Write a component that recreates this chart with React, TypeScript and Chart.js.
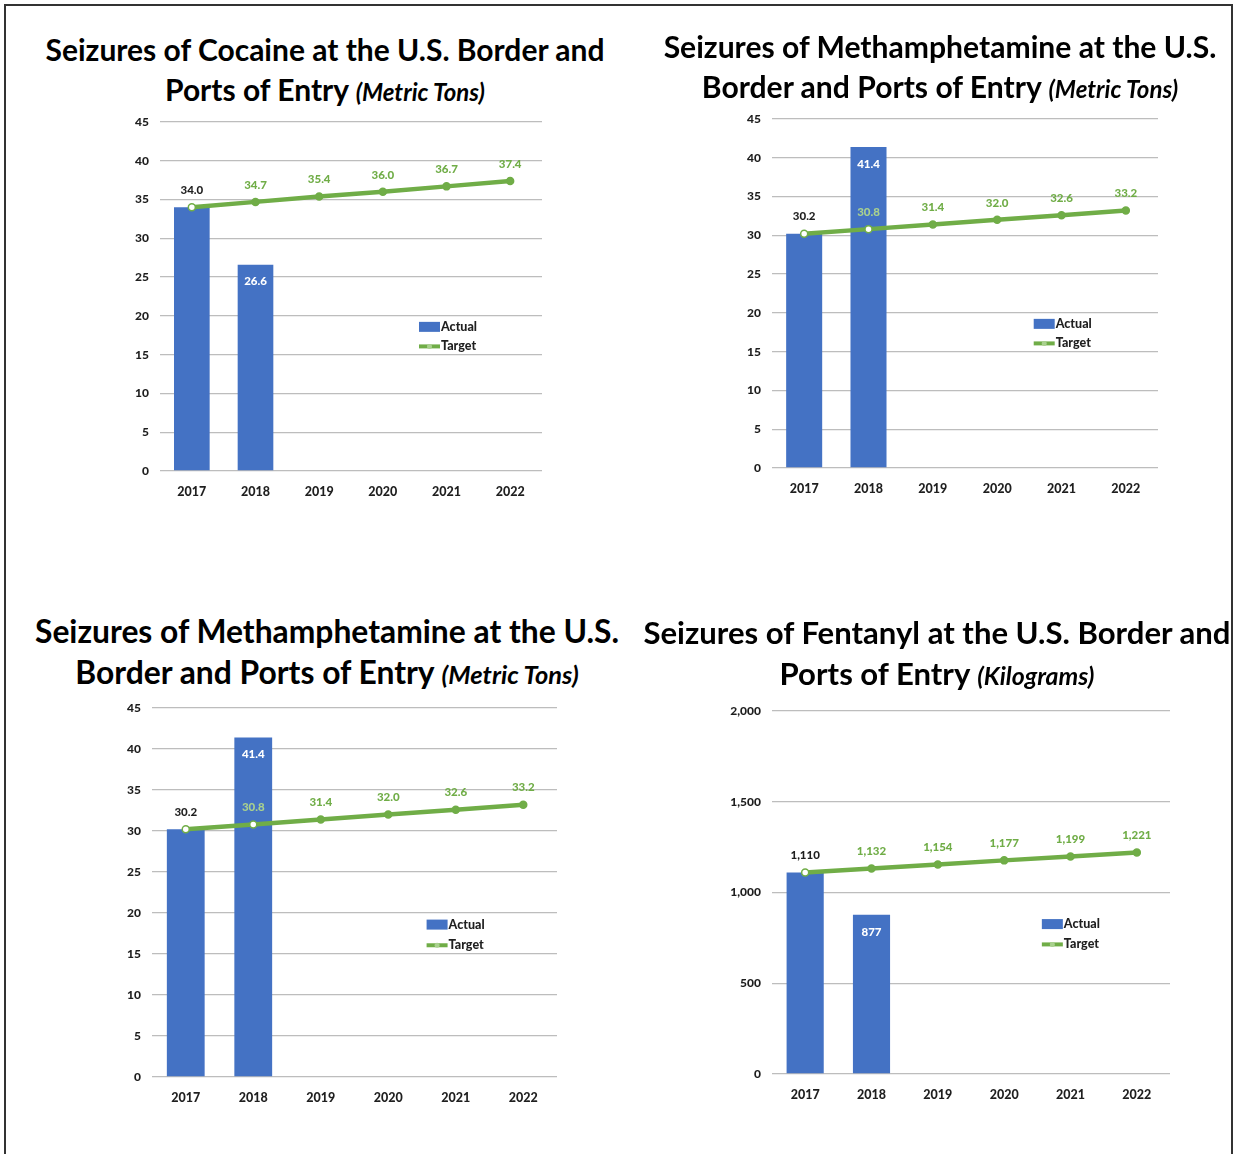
import React, { useEffect, useRef } from "react";
import { Chart, registerables } from "chart.js";

Chart.register(...registerables);

// ---------- DATA ----------
const years = ["2017", "2018", "2019", "2020", "2021", "2022"];

const cocaineActual = [34.0, 26.6, null, null, null, null];
const cocaineTarget = [34.0, 34.7, 35.4, 36.0, 36.7, 37.4];

const methActual = [30.2, 41.4, null, null, null, null];
const methTarget = [30.2, 30.8, 31.4, 32.0, 32.6, 33.2];

const fentanylActual = [1110, 877, null, null, null, null];
const fentanylTarget = [1110, 1132, 1154, 1177, 1199, 1221];

const tonsAxisMax = 45;
const tonsAxisStep = 5;
const kgAxisMax = 2000;
const kgAxisStep = 500;

// ---------- STYLE ----------
const BLUE = "#4472C4";
const GREEN = "#70AD47";
const LIGHT_GREEN = "#A9D18E";
const GRID = "#bdbdbd";
const TEXT = "#1f1f1f";
const FONT = "Lato, 'Open Sans', sans-serif";

type PanelProps = {
  actual: (number | null)[];
  target: number[];
  max: number;
  step: number;
  decimals: number;
  plot: { L: number; T: number; R: number; B: number };
  titleLine1: string;
  titleLine2: string;
  unit: string;
  titleCx: number;
  titleY1: number;
  titleSize: number;
  titleLH: number;
};

const Y_W = 60;
const X_H = 35;
const PAD_T = 20;
const PAD_R = 15;

function fmt(v: number, decimals: number) {
  if (decimals > 0) return v.toFixed(decimals);
  return Math.round(v).toLocaleString("en-US");
}

function Panel(p: PanelProps) {
  const ref = useRef<HTMLCanvasElement | null>(null);
  const cw = p.plot.R - p.plot.L + Y_W + PAD_R;
  const ch = p.plot.B - p.plot.T + PAD_T + X_H;

  useEffect(() => {
    if (!ref.current) return;
    const labelPlugin = {
      id: "labelsAndLegend",
      afterDatasetsDraw(chart: any) {
        const ctx = chart.ctx as CanvasRenderingContext2D;
        const barMeta = chart.getDatasetMeta(0);
        const lineMeta = chart.getDatasetMeta(1);
        ctx.save();
        ctx.font = `900 11.5px ${FONT}`;
        ctx.textAlign = "center";
        ctx.textBaseline = "middle";
        for (let i = 0; i < years.length; i++) {
          const a = p.actual[i];
          const t = p.target[i];
          if (a != null) {
            const el = barMeta.data[i];
            if (a === t) {
              ctx.fillStyle = TEXT;
              ctx.fillText(fmt(a, p.decimals), el.x, el.y - 17);
            } else {
              ctx.fillStyle = "#ffffff";
              ctx.fillText(fmt(a, p.decimals), el.x, el.y + 17);
            }
          }
          if (t != null && t !== a) {
            const pt = lineMeta.data[i];
            ctx.fillStyle = a != null && a > t ? LIGHT_GREEN : GREEN;
            ctx.fillText(fmt(t, p.decimals), pt.x, pt.y - 17);
          }
        }
        // legend inside plot
        const ca = chart.chartArea;
        const w = ca.right - ca.left;
        const h = ca.bottom - ca.top;
        const x0 = ca.left + 0.678 * w;
        const y1 = ca.top + 0.587 * h;
        const y2 = ca.top + 0.643 * h;
        ctx.fillStyle = BLUE;
        ctx.fillRect(x0, y1 - 5, 21, 10);
        ctx.strokeStyle = GREEN;
        ctx.lineWidth = 4;
        ctx.beginPath();
        ctx.moveTo(x0, y2);
        ctx.lineTo(x0 + 21, y2);
        ctx.stroke();
        ctx.fillStyle = LIGHT_GREEN;
        ctx.beginPath();
        ctx.arc(x0 + 10.5, y2, 2.5, 0, Math.PI * 2);
        ctx.fill();
        ctx.fillStyle = TEXT;
        ctx.textAlign = "left";
        ctx.font = `900 12.5px ${FONT}`;
        ctx.fillText("Actual", x0 + 22, y1);
        ctx.fillText("Target", x0 + 22, y2);
        ctx.restore();
      },
    };

    const chart = new Chart(ref.current, {
      type: "bar",
      data: {
        labels: years,
        datasets: [
          {
            type: "bar",
            label: "Actual",
            data: p.actual as any,
            backgroundColor: BLUE,
            barPercentage: 0.56,
            categoryPercentage: 1.0,
            order: 1,
          },
          {
            type: "line",
            label: "Target",
            data: p.target,
            borderColor: GREEN,
            borderWidth: 4.5,
            pointRadius: 3.5,
            pointBorderWidth: 1.5,
            pointBorderColor: GREEN,
            pointBackgroundColor: (c: any) => {
              const a = p.actual[c.dataIndex];
              return a != null && a >= p.target[c.dataIndex] ? "#ffffff" : GREEN;
            },
            tension: 0,
            order: 0,
          } as any,
        ],
      },
      options: {
        responsive: false,
        maintainAspectRatio: false,
        animation: false,
        layout: { padding: { left: 0, top: PAD_T, right: PAD_R, bottom: 0 } },
        plugins: {
          legend: { display: false },
          title: { display: false },
          tooltip: { enabled: false },
        },
        scales: {
          x: {
            offset: true,
            grid: { display: false, drawTicks: false },
            border: { display: false },
            ticks: {
              padding: 13,
              color: TEXT,
              font: { family: FONT, size: 12.5, weight: "900" as any },
            },
            afterFit: (s: any) => {
              s.height = X_H;
            },
          },
          y: {
            min: 0,
            max: p.max,
            grid: { color: GRID, lineWidth: 1.3, drawTicks: false },
            border: { display: false },
            ticks: {
              stepSize: p.step,
              padding: 11,
              color: TEXT,
              font: { family: FONT, size: 12, weight: "900" as any },
              callback: (v: any) => Number(v).toLocaleString("en-US"),
            },
            afterFit: (s: any) => {
              s.width = Y_W;
            },
          },
        },
      },
      plugins: [labelPlugin],
    });
    return () => chart.destroy();
  }, []);

  return (
    <>
      <div
        style={{
          position: "absolute",
          left: p.titleCx - 400,
          top: p.titleY1 - p.titleLH / 2,
          width: 800,
          textAlign: "center",
          fontFamily: FONT,
          fontWeight: 700,
          fontSize: p.titleSize,
          lineHeight: `${p.titleLH}px`,
          color: "#000",
          whiteSpace: "nowrap",
        }}
      >
        {p.titleLine1}
        <br />
        {p.titleLine2}{" "}
        <span style={{ fontStyle: "italic", fontSize: p.titleSize * 0.8 }}>{p.unit}</span>
      </div>
      <canvas
        ref={ref}
        width={cw}
        height={ch}
        style={{
          position: "absolute",
          left: p.plot.L - Y_W,
          top: p.plot.T - PAD_T,
          width: cw,
          height: ch,
        }}
      />
    </>
  );
}

export default function App() {
  return (
    <div
      style={{
        position: "absolute",
        left: 0,
        top: 0,
        width: 1235,
        height: 1154,
        background: "#fff",
        overflow: "hidden",
      }}
    >
      <div
        style={{
          position: "absolute",
          left: 4,
          top: 4,
          width: 1229,
          height: 1160,
          boxSizing: "border-box",
          borderTop: "2px solid #333",
          borderLeft: "2px solid #333",
          borderRight: "2px solid #333",
        }}
      />
      <Panel
        actual={cocaineActual}
        target={cocaineTarget}
        max={tonsAxisMax}
        step={tonsAxisStep}
        decimals={1}
        plot={{ L: 160, T: 122, R: 542, B: 471 }}
        titleLine1="Seizures of Cocaine at the U.S. Border and"
        titleLine2="Ports of Entry"
        unit="(Metric Tons)"
        titleCx={325}
        titleY1={49}
        titleSize={30}
        titleLH={40}
      />
      <Panel
        actual={methActual}
        target={methTarget}
        max={tonsAxisMax}
        step={tonsAxisStep}
        decimals={1}
        plot={{ L: 772, T: 119, R: 1158, B: 468 }}
        titleLine1="Seizures of Methamphetamine at the U.S."
        titleLine2="Border and Ports of Entry"
        unit="(Metric Tons)"
        titleCx={940}
        titleY1={46}
        titleSize={30.1}
        titleLH={40}
      />
      <Panel
        actual={methActual}
        target={methTarget}
        max={tonsAxisMax}
        step={tonsAxisStep}
        decimals={1}
        plot={{ L: 152, T: 708, R: 557, B: 1077 }}
        titleLine1="Seizures of Methamphetamine at the U.S."
        titleLine2="Border and Ports of Entry"
        unit="(Metric Tons)"
        titleCx={327}
        titleY1={631}
        titleSize={31.8}
        titleLH={41}
      />
      <Panel
        actual={fentanylActual}
        target={fentanylTarget}
        max={kgAxisMax}
        step={kgAxisStep}
        decimals={0}
        plot={{ L: 772, T: 711, R: 1170, B: 1074 }}
        titleLine1="Seizures of Fentanyl at the U.S. Border and"
        titleLine2="Ports of Entry"
        unit="(Kilograms)"
        titleCx={937}
        titleY1={632}
        titleSize={31.1}
        titleLH={41}
      />
    </div>
  );
}
